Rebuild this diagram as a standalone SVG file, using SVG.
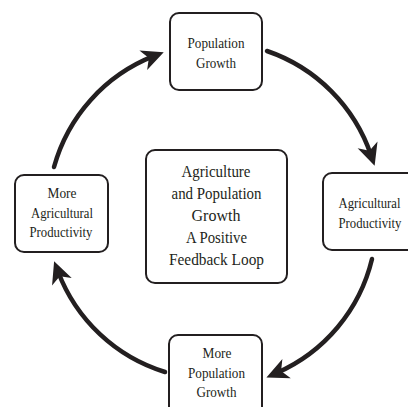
<svg xmlns="http://www.w3.org/2000/svg" width="408" height="407" viewBox="0 0 408 407">
  <style>
    .box { fill: #ffffff; stroke: #231f20; stroke-width: 2; }
    .lbl { font-family: "Liberation Serif", "DejaVu Serif", serif; fill: #231f20; text-anchor: middle; }
    .sm { font-size: 14.5px; }
    .lg { font-size: 17px; }
    .arc { fill: none; stroke: #231f20; stroke-width: 4.5; stroke-linecap: round; marker-end: url(#head); }
  </style>
  <defs>
    <marker id="head" markerUnits="userSpaceOnUse" viewBox="-2 -12 25 24" markerWidth="25" markerHeight="24" refX="10" refY="0" orient="auto">
      <path d="M21,0 L-1,-10.5 L5,0 L-1,10.5 Z" fill="#231f20"/>
    </marker>
  </defs>

  <rect width="408" height="407" fill="#ffffff"/>

  <g id="connectors">
    <path class="arc" d="M54,167 A167,167 0 0 1 153.5,56.2"/>
    <path class="arc" d="M267,51 A167,167 0 0 1 371.1,155.4"/>
    <path class="arc" d="M372,259 A167,167 0 0 1 276.5,373"/>
    <path class="arc" d="M165,372 A167,167 0 0 1 58,271.5"/>
  </g>

  <g id="population-growth">
    <rect class="box" x="170" y="13" width="92" height="77" rx="9"/>
    <text class="lbl sm" x="216" y="48" textLength="57" lengthAdjust="spacingAndGlyphs">Population</text>
    <text class="lbl sm" x="216" y="68" textLength="40" lengthAdjust="spacingAndGlyphs">Growth</text>
  </g>

  <g id="agricultural-productivity">
    <rect class="box" x="323" y="173" width="94" height="77" rx="9"/>
    <text class="lbl sm" x="369.5" y="208" textLength="62" lengthAdjust="spacingAndGlyphs">Agricultural</text>
    <text class="lbl sm" x="370" y="228" textLength="63" lengthAdjust="spacingAndGlyphs">Productivity</text>
  </g>

  <g id="more-population-growth">
    <rect class="box" x="169" y="335" width="93" height="80" rx="9"/>
    <text class="lbl sm" x="217" y="358" textLength="29" lengthAdjust="spacingAndGlyphs">More</text>
    <text class="lbl sm" x="216.5" y="378" textLength="57" lengthAdjust="spacingAndGlyphs">Population</text>
    <text class="lbl sm" x="216.5" y="397" textLength="40" lengthAdjust="spacingAndGlyphs">Growth</text>
  </g>

  <g id="more-agricultural-productivity">
    <rect class="box" x="15" y="175" width="93" height="77" rx="9"/>
    <text class="lbl sm" x="62" y="198" textLength="29" lengthAdjust="spacingAndGlyphs">More</text>
    <text class="lbl sm" x="62" y="218" textLength="62" lengthAdjust="spacingAndGlyphs">Agricultural</text>
    <text class="lbl sm" x="61" y="237" textLength="63" lengthAdjust="spacingAndGlyphs">Productivity</text>
  </g>

  <g id="feedback-loop">
    <rect class="box" x="146" y="150" width="141" height="133" rx="9"/>
    <text class="lbl lg" x="216" y="177" textLength="69" lengthAdjust="spacingAndGlyphs">Agriculture</text>
    <text class="lbl lg" x="216.5" y="199" textLength="90" lengthAdjust="spacingAndGlyphs">and Population</text>
    <text class="lbl lg" x="216" y="221" textLength="49" lengthAdjust="spacingAndGlyphs">Growth</text>
    <text class="lbl lg" x="216.5" y="243" textLength="61" lengthAdjust="spacingAndGlyphs">A Positive</text>
    <text class="lbl lg" x="216.5" y="265" textLength="95" lengthAdjust="spacingAndGlyphs">Feedback Loop</text>
  </g>
</svg>
